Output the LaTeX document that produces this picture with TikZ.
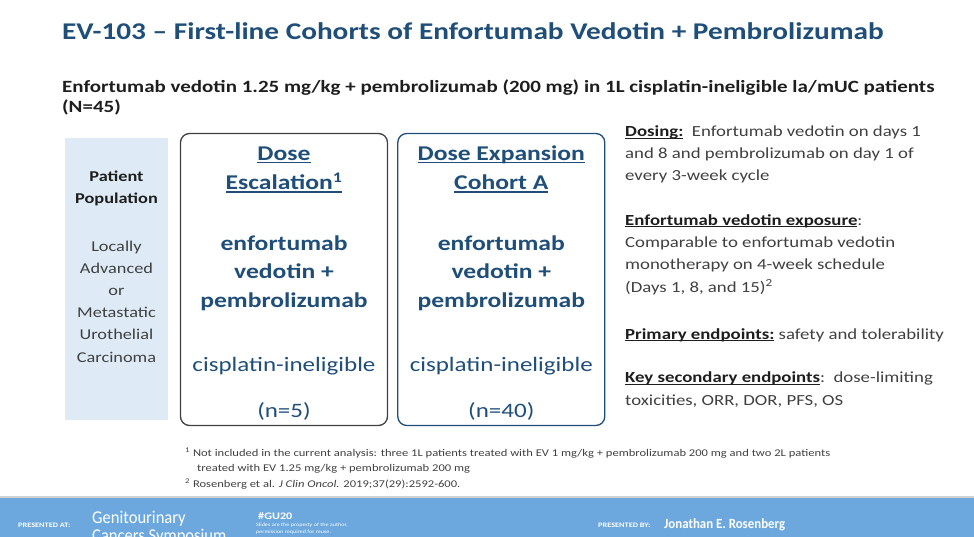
\documentclass[tikz,border=0pt]{standalone}
\usepackage{fontspec}
\setmainfont{Carlito}[FakeStretch=1.22]
\newfontfamily\evfoot{Carlito}[FakeStretch=0.92]
\usetikzlibrary{positioning}

\definecolor{evblue}{RGB}{31,78,121}
\definecolor{evgray}{RGB}{64,64,64}
\definecolor{evdark}{RGB}{30,30,30}
\definecolor{popfill}{RGB}{222,235,247}
\definecolor{footblue}{RGB}{108,168,222}

% underline at a fixed depth
\newcommand\evul[1]{\setbox0\hbox{#1}\rlap{\rule[-0.13em]{\wd0}{0.065em}}\box0}

\begin{document}
\begin{tikzpicture}[x=1pt, y=-1pt, inner sep=0pt,
    cohort/.style = {draw, rounded corners=9pt, line width=1.3pt, minimum width=207pt, minimum height=292pt},
    hdr/.style = {font=\fontsize{21}{29.5}\selectfont\bfseries, text=evblue, align=center, anchor=base},
    drug/.style = {font=\fontsize{21}{28.5}\selectfont\bfseries, text=evblue, align=center, anchor=base},
    elig/.style = {font=\fontsize{20.5}{24}\selectfont, text=evblue, anchor=base},
    pop/.style = {font=\fontsize{15}{22.2}\selectfont, text=evgray, align=center, anchor=base},
    info/.style = {font=\fontsize{15.4}{22.2}\selectfont, text=evgray, align=left, anchor=base west},
    note/.style = {font=\fontsize{10.3}{15.5}\selectfont, text=evgray, align=left, anchor=base west},
    foot/.style = {text=white, anchor=base west, align=left}]
  \useasboundingbox (0,0) rectangle (974,537);
  \clip (0,0) rectangle (974,537);

  % title and subtitle (multi-line nodes sit on their last baseline)
  \node[anchor=base west, font=\fontsize{24}{28}\selectfont\bfseries, text=evblue] (title) at (62,40)
    {EV-103 – First-line Cohorts of Enfortumab Vedotin + Pembrolizumab};
  \node[anchor=base west, align=left, font=\fontsize{17.2}{20.5}\selectfont\bfseries, text=evdark] (sub) at (62,113)
    {Enfortumab vedotin 1.25 mg/kg + pembrolizumab (200 mg) in 1L cisplatin-ineligible la/mUC patients\\(N=45)};

  % patient population
  \node[fill=popfill, minimum width=103pt, minimum height=282pt] (pop) at (116.5,279) {};
  \node[pop, font=\fontsize{15}{22.2}\selectfont\bfseries, text=evdark] (popT) at (pop |- 0,204) {Patient\\Population};
  \node[pop] (popD) at (pop |- 0,362) {Locally\\Advanced\\or\\Metastatic\\Urothelial\\Carcinoma};

  % cohorts
  \node[cohort, draw=evgray] (esc) at (284,279.5) {};
  \node[cohort, draw=evblue, right=9pt of esc] (exp) {};

  \node[hdr] (escT) at (esc |- 0,190) {\evul{Dose}\\\evul{Escalation\textsuperscript{1}}};
  \node[drug] (escD) at (esc |- 0,307) {enfortumab\\vedotin +\\pembrolizumab};
  \node[elig] (escE) at (esc |- 0,371) {cisplatin-ineligible};
  \node[elig] (escN) at (esc |- 0,417) {(n=5)};

  \node[hdr] (expT) at (exp |- 0,190) {\evul{Dose Expansion}\\\evul{Cohort A}};
  \node[drug] (expD) at (exp |- 0,307) {enfortumab\\vedotin +\\pembrolizumab};
  \node[elig] (expE) at (exp |- 0,371) {cisplatin-ineligible};
  \node[elig] (expN) at (exp |- 0,417) {(n=40)};

  % study details
  \node[info] (dosing) at (625,181) {{\bfseries\color{evdark}\evul{Dosing:}}\ \ Enfortumab vedotin on days 1\\and 8 and pembrolizumab on day 1 of\\every 3-week cycle};
  \node[info] (expo) at (625,292) {{\bfseries\color{evdark}\evul{Enfortumab vedotin exposure}}:\\Comparable to enfortumab vedotin\\monotherapy on 4-week schedule\\(Days 1, 8, and 15)\textsuperscript{2}};
  \node[info] (prim) at (625,339) {{\bfseries\color{evdark}\evul{Primary endpoints:}} safety and tolerability};
  \node[info] (sec) at (625,405) {{\bfseries\color{evdark}\evul{Key secondary endpoints}}:\ \ dose-limiting\\toxicities, ORR, DOR, PFS, OS};

  % footnotes
  \node[note] (notes) at (185,487) {\textsuperscript{1} Not included in the current analysis: three 1L patients treated with EV 1 mg/kg + pembrolizumab 200 mg and two 2L patients\\
    \hspace*{12pt}treated with EV 1.25 mg/kg + pembrolizumab 200 mg\\
    \textsuperscript{2} Rosenberg et al. \textit{J Clin Oncol.} 2019;37(29):2592-600.};

  % footer band
  \node[fill=footblue, minimum width=974pt, minimum height=40pt, anchor=north west] (band) at (0,497) {};
  \draw[gray!35, line width=1.5pt] (band.north west) -- (band.north east);
  \node[foot, font=\fontsize{6.8}{7}\selectfont\bfseries] (atlbl) at (18,527) {PRESENTED AT:};
  \node[foot, font=\evfoot\fontsize{18}{18}\selectfont] (gucs) at (92,541) {Genitourinary\\Cancers Symposium};
  \node[foot, font=\fontsize{10}{12}\selectfont\bfseries] (tag) at (258,519) {\#GU20};
  \node[foot, font=\fontsize{5}{7}\selectfont] (slides) at (256,533) {Slides are the property of the author,\\permission required for reuse.};
  \node[foot, font=\fontsize{6.8}{7}\selectfont\bfseries] (bylbl) at (598,527) {PRESENTED BY:};
  \node[foot, font=\evfoot\fontsize{14}{16}\selectfont\bfseries] (author) at (664,528) {Jonathan E. Rosenberg};
\end{tikzpicture}
\end{document}
